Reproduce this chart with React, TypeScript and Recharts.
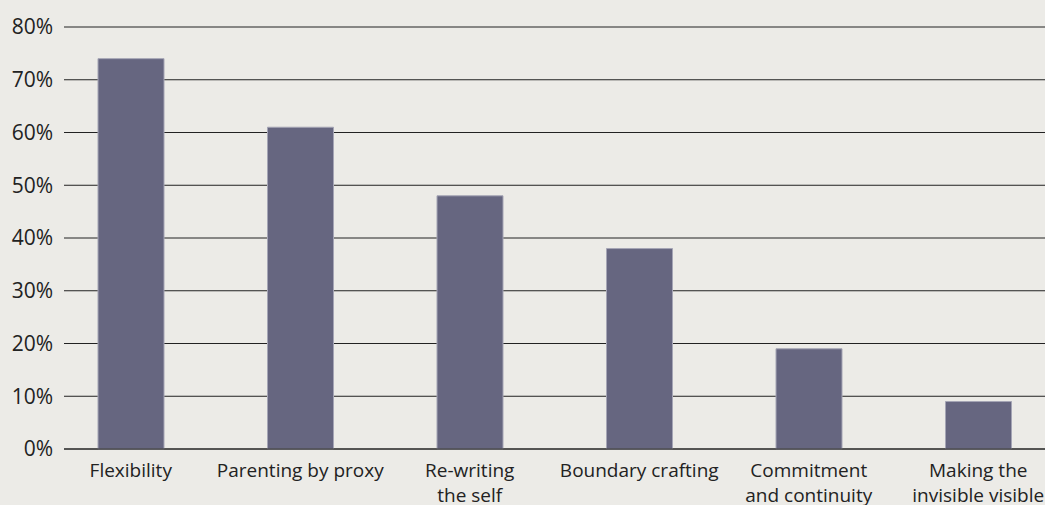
import { Bar, BarChart, CartesianGrid, XAxis, YAxis } from "recharts";

const categories = [
  "Flexibility",
  "Parenting by proxy",
  "Re-writing\nthe self",
  "Boundary crafting",
  "Commitment\nand continuity",
  "Making the\ninvisible visible",
];
const shares = [74, 61, 48, 38, 19, 9];
const yTicks = [0, 10, 20, 30, 40, 50, 60, 70, 80];

const data = categories.map((name, i) => ({ name, value: shares[i] }));

const TEXT = "#222222";
const FONT = "'Open Sans', 'Noto Sans', sans-serif";

function CategoryTick(props: any) {
  const { x, y, payload } = props;
  const lines = String(payload.value).split("\n");
  return (
    <g>
      {lines.map((l, i) => (
        <text
          key={i}
          x={x}
          y={y + 20 + i * 25}
          textAnchor="middle"
          fontSize={19}
          fill={TEXT}
          fontFamily={FONT}
        >
          {l}
        </text>
      ))}
    </g>
  );
}

export default function App() {
  return (
    <div
      style={{
        position: "fixed",
        left: 0,
        top: 0,
        width: 1045,
        height: 505,
        background: "#ecebe7",
        fontFamily: FONT,
        overflow: "hidden",
      }}
    >
      <BarChart
        width={1045}
        height={505}
        data={data}
        margin={{ top: 27, right: 0, bottom: 0, left: 0 }}
      >
        <CartesianGrid vertical={false} stroke={TEXT} strokeWidth={1} />
        <XAxis
          dataKey="name"
          interval={0}
          height={56}
          padding={{ left: -18, right: -18 }}
          tickLine={false}
          axisLine={{ stroke: TEXT, strokeWidth: 1 }}
          tick={<CategoryTick />}
        />
        <YAxis
          width={64}
          domain={[0, 80]}
          ticks={yTicks}
          interval={0}
          tickLine={false}
          axisLine={false}
          tickMargin={5}
          tickFormatter={(v: number) => `${v}%`}
          tick={{ fontSize: 21, fill: TEXT, fontFamily: FONT }}
        />
        <Bar
          dataKey="value"
          fill="#666680"
          stroke="#a5a5b5"
          strokeWidth={1}
          barSize={66}
          isAnimationActive={false}
        />
      </BarChart>
    </div>
  );
}
